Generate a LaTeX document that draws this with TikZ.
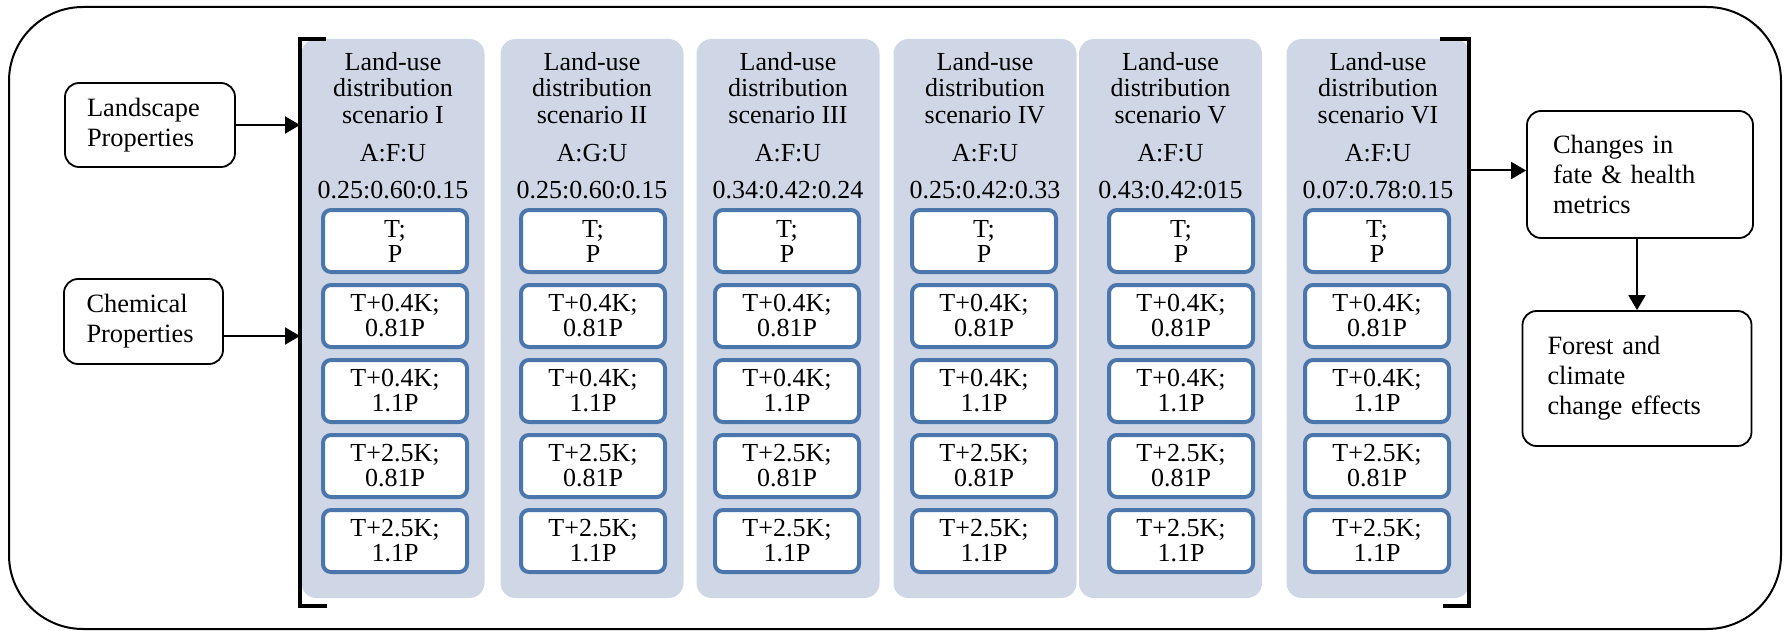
\documentclass[tikz,border=0pt]{standalone}
\usepackage{fontspec}
\setmainfont{Liberation Serif}
\usetikzlibrary{arrows.meta, positioning}
\definecolor{colfill}{RGB}{207,215,230}
\definecolor{runblue}{RGB}{74,118,172}

\tikzset{
	colbox/.style={fill=colfill, draw=none, rounded corners=7.5pt, minimum width=91.5pt, minimum height=279.5pt, inner sep=0pt},
	coltext/.style={align=center, inner sep=0pt, font=\fontsize{13}{13.25}\selectfont},
	runbox/.style={draw=runblue, fill=white, line width=2pt, rounded corners=4pt, minimum width=72pt, minimum height=31pt, inner sep=0pt, align=center, font=\fontsize{13}{12.5}\selectfont},
	sidebox/.style={draw, line width=0.9pt, rounded corners=7pt, align=left, inner ysep=0pt, font=\fontsize{13.2}{15}\selectfont},
	flow/.style={line width=1pt, -{Triangle[length=7.5pt, width=8.5pt]}},
	bracket/.style={line width=1.6pt}
}

\begin{document}
\begin{tikzpicture}[x=0.5pt, y=-0.5pt]
\useasboundingbox (0,0) rectangle (1784,631);
% outer frame
\draw[line width=1pt, rounded corners=37pt] (9,7) rectangle (1781,629);

%========================
% Inputs
%========================
\node[sidebox, text width=63pt, inner xsep=11pt, minimum height=42pt] (land) at (150,125) {Landscape\\Properties};
\node[sidebox, text width=57pt, inner xsep=11.25pt, minimum height=42.5pt] (chem) at (143.5,321.5) {Chemical\\Properties};

%========================
% Scenario columns
%========================
\foreach \cx/\bx/\nm/\lu/\ratio in {393/395/I/A:F:U/0.25:0.60:0.15, 592/593/II/A:G:U/0.25:0.60:0.15,
	788/787/III/A:F:U/0.34:0.42:0.24, 985/984/IV/A:F:U/0.25:0.42:0.33,
	1170.5/1181/V/A:F:U/0.43:0.42:015, 1378/1377/VI/A:F:U/0.07:0.78:0.15}{
	\node[colbox] (col\nm) at (\cx,318.5) {};
	\node[coltext] (title\nm) at (\cx,88) {Land-use\\distribution\\scenario \nm};
	\node[coltext] (lu\nm) at (\cx,153) {\lu};
	\node[coltext] (ratio\nm) at (\cx,190) {\ratio};
	% climate runs
	\foreach \lab [count=\r] in {{T;\\P}, {T+0.4K;\\0.81P}, {T+0.4K;\\1.1P}, {T+2.5K;\\0.81P}, {T+2.5K;\\1.1P}}
		\node[runbox] (run\nm\r) at (\bx,166+75*\r) {\lab};
}

% brackets round the scenarios
\coordinate (brL) at (300,39);
\coordinate (brR) at (1469,39);
\draw[bracket] (326,39) -- (brL) -- (300,606) -- (327,606);
\draw[bracket] (1440,39) -- (brR) -- (1469,606) -- (1443,606);

%========================
% Outputs
%========================
\node[sidebox, text width=87pt, inner xsep=13pt, minimum height=63.5pt] (chg) at (1640,174.5) {Changes in\\fate \& health\\metrics};
\node[sidebox, text width=89.5pt, inner xsep=12.5pt, minimum height=67.5pt] (fst) at (1637,378.5) {Forest and\\climate\\change effects};

% connectors
\draw[flow] (land.east) -- (land.east -| brL);
\draw[flow] ([yshift=-7.25pt]chem.east) -- ([yshift=-7.25pt]chem.east -| brL);
\draw[flow] ([yshift=2pt]chg.west -| brR) -- ([yshift=2pt]chg.west);
\draw[flow] ([xshift=-1.5pt]chg.south) -- ([xshift=-1.5pt]chg.south |- fst.north);
\end{tikzpicture}
\end{document}
